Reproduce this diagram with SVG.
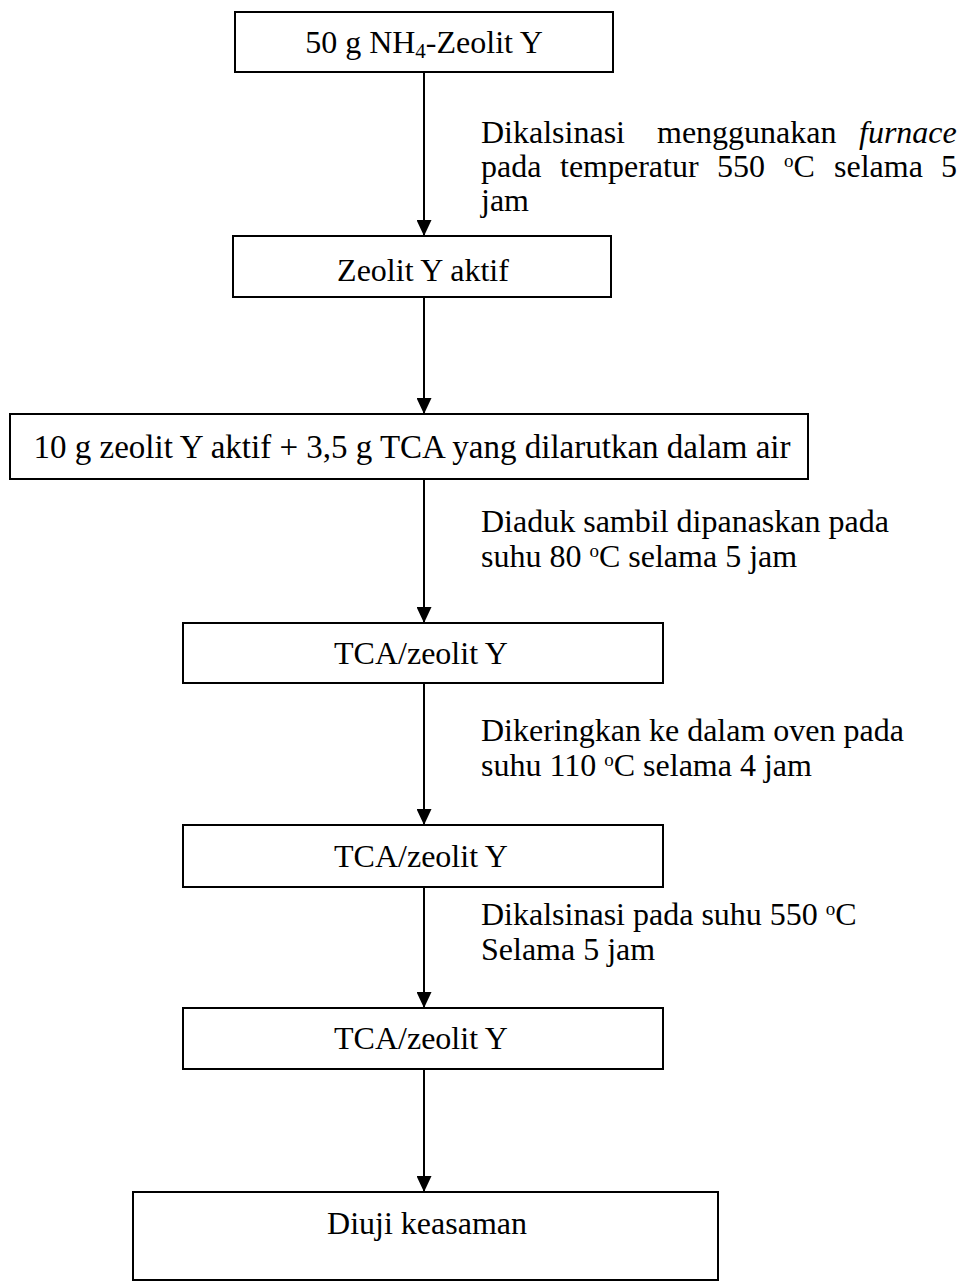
<svg xmlns="http://www.w3.org/2000/svg" width="958" height="1283" viewBox="0 0 958 1283">
<style>
.box{fill:#fff;stroke:#000;stroke-width:2}
.t{font-family:"Liberation Serif","Times New Roman",serif;font-size:32px;fill:#000}
.c{text-anchor:middle}
.sup{font-size:19px}
.conn{stroke:#000;stroke-width:2;fill:none}
</style>
<defs>
<marker id="ah" markerWidth="16" markerHeight="15" refX="16" refY="7.5" orient="auto" markerUnits="userSpaceOnUse">
<path d="M0,0 L16,7.5 L0,15 Z" fill="#000"/>
</marker>
</defs>
<rect width="958" height="1283" fill="#fff"/>
<g id="connectors">
<line class="conn" x1="424" y1="72" x2="424" y2="236" marker-end="url(#ah)"/>
<line class="conn" x1="424" y1="297" x2="424" y2="414" marker-end="url(#ah)"/>
<line class="conn" x1="424" y1="479" x2="424" y2="623" marker-end="url(#ah)"/>
<line class="conn" x1="424" y1="683" x2="424" y2="825" marker-end="url(#ah)"/>
<line class="conn" x1="424" y1="887" x2="424" y2="1008" marker-end="url(#ah)"/>
<line class="conn" x1="424" y1="1069" x2="424" y2="1192" marker-end="url(#ah)"/>
</g>
<g id="labels">
<text class="t" y="143"><tspan x="481">Dikalsinasi</tspan><tspan x="657">menggunakan</tspan><tspan x="859" font-style="italic">furnace</tspan></text>
<text class="t" y="177"><tspan x="481">pada</tspan><tspan x="560">temperatur</tspan><tspan x="717">550</tspan><tspan x="784" dy="-10" class="sup">o</tspan><tspan dy="10">C</tspan><tspan x="834">selama</tspan><tspan x="941">5</tspan></text>
<text class="t" x="481" y="211">jam</text>
<text class="t" x="481" y="532">Diaduk sambil dipanaskan pada</text>
<text class="t" x="481" y="567">suhu 80 <tspan dy="-10" class="sup">o</tspan><tspan dy="10">C selama 5 jam</tspan></text>
<text class="t" x="481" y="741">Dikeringkan ke dalam oven pada</text>
<text class="t" x="481" y="776">suhu 110 <tspan dy="-10" class="sup">o</tspan><tspan dy="10">C selama 4 jam</tspan></text>
<text class="t" x="481" y="925">Dikalsinasi pada suhu 550 <tspan dy="-10" class="sup">o</tspan><tspan dy="10">C</tspan></text>
<text class="t" x="481" y="960">Selama 5 jam</text>
</g>
<g id="n1"><rect class="box" x="235" y="12" width="378" height="60"/><text class="t c" x="424" y="53">50 g NH<tspan dy="5" font-size="21">4</tspan><tspan dy="-5">-Zeolit Y</tspan></text></g>
<g id="n2"><rect class="box" x="233" y="236" width="378" height="61"/><text class="t c" x="423" y="281">Zeolit Y aktif</text></g>
<g id="n3"><rect class="box" x="10" y="414" width="798" height="65"/><text class="t c" x="412" y="458" style="font-size:33px">10 g zeolit Y aktif + 3,5 g TCA yang dilarutkan dalam air</text></g>
<g id="n4"><rect class="box" x="183" y="623" width="480" height="60"/><text class="t c" x="421" y="664">TCA/zeolit Y</text></g>
<g id="n5"><rect class="box" x="183" y="825" width="480" height="62"/><text class="t c" x="421" y="867">TCA/zeolit Y</text></g>
<g id="n6"><rect class="box" x="183" y="1008" width="480" height="61"/><text class="t c" x="421" y="1049">TCA/zeolit Y</text></g>
<g id="n7"><rect class="box" x="133" y="1192" width="585" height="88"/><text class="t c" x="427" y="1234">Diuji keasaman</text></g>
</svg>
